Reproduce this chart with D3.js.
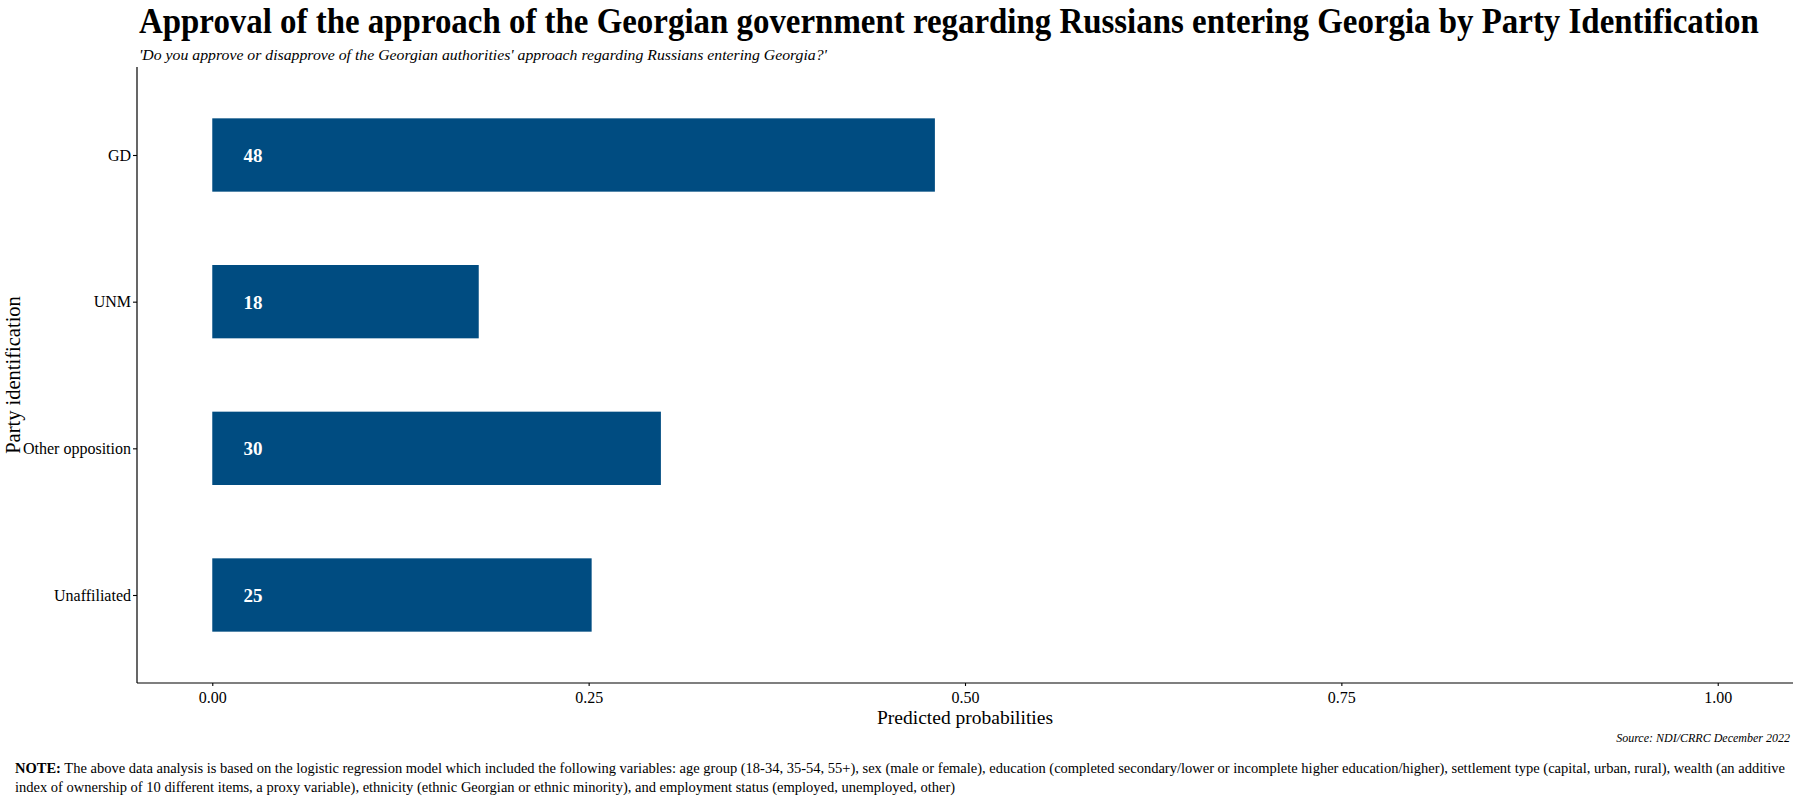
<!DOCTYPE html>
<html>
<head>
<meta charset="utf-8">
<script src="https://cdn.jsdelivr.net/npm/d3@7"></script>
<style>
  body { margin: 0; background: #fff; }
  svg text { font-family: "Liberation Serif", "Times New Roman", serif; fill: #000; }
</style>
</head>
<body>
<svg class="chart"></svg>
<script>
// chart data
var categories = ["GD", "UNM", "Other opposition", "Unaffiliated"];
var probabilities = [0.48, 0.177, 0.298, 0.252];
var barLabels = ["48", "18", "30", "25"];
var xTicks = [0, 0.25, 0.5, 0.75, 1];

var title = "Approval of the approach of the Georgian government regarding Russians entering Georgia by Party Identification";
var subtitle = "'Do you approve or disapprove of the Georgian authorities' approach regarding Russians entering Georgia?'";
var source = "Source: NDI/CRRC December 2022";
var noteLines = [
  "The above data analysis is based on the logistic regression model which included the following variables: age group (18-34, 35-54, 55+), sex (male or female), education (completed secondary/lower or incomplete higher education/higher), settlement type (capital, urban, rural), wealth (an additive",
  "index of ownership of 10 different items, a proxy variable), ethnicity (ethnic Georgian or ethnic minority), and employment status (employed, unemployed, other)"
];

var width = 1817;
var height = 809;

// panel area
var panel = { left: 137, right: 1793, top: 67, bottom: 683 };

var svg = d3.select(".chart")
    .attr("width", width)
    .attr("height", height);

var x = d3.scaleLinear()
    .domain([-0.05, 1.05])
    .range([panel.left, panel.right]);

// discrete scale with ggplot style 0.6 unit expansion
var y = d3.scalePoint()
    .domain(categories)
    .range([panel.top, panel.bottom])
    .padding(0.6);

var barHeight = y.step() * 0.5;

// bars
svg.append("g")
  .selectAll("rect")
  .data(categories)
  .enter().append("rect")
    .attr("x", x(0))
    .attr("y", function(d) { return y(d) - barHeight / 2; })
    .attr("width", function(d, i) { return x(probabilities[i]) - x(0); })
    .attr("height", barHeight)
    .attr("fill", "#004c81");

// value labels inside bars
svg.append("g")
  .selectAll("text")
  .data(categories)
  .enter().append("text")
    .attr("x", x(0.027))
    .attr("y", function(d) { return y(d); })
    .attr("dy", "0.36em")
    .attr("text-anchor", "middle")
    .attr("style", "fill: #fff; font-weight: bold; font-size: 19px;")
    .text(function(d, i) { return barLabels[i]; });

// y axis
var yAxis = svg.append("g")
    .attr("transform", "translate(" + panel.left + ",0)")
    .call(d3.axisLeft(y).tickSize(4).tickPadding(2));
yAxis.select(".domain").attr("d", "M0," + panel.top + "V" + panel.bottom).attr("stroke-width", 1.2);
yAxis.selectAll(".tick line").attr("stroke-width", 1.1);
yAxis.selectAll(".tick text").attr("style", "font-size: 16px;");

// x axis
var xAxis = svg.append("g")
    .attr("transform", "translate(0," + panel.bottom + ")")
    .call(d3.axisBottom(x).tickValues(xTicks).tickFormat(d3.format(".2f")).tickSize(3).tickPadding(6));
xAxis.select(".domain").attr("d", "M" + panel.left + ",0H" + panel.right).attr("stroke-width", 1.2);
xAxis.selectAll(".tick line").attr("stroke-width", 1.1);
xAxis.selectAll(".tick text").attr("style", "font-size: 16px;");

// axis titles
svg.append("text")
    .attr("x", (panel.left + panel.right) / 2)
    .attr("y", 724)
    .attr("text-anchor", "middle")
    .attr("style", "font-size: 19.5px;")
    .text("Predicted probabilities");

svg.append("text")
    .attr("transform", "translate(20," + (panel.top + panel.bottom) / 2 + ") rotate(-90)")
    .attr("text-anchor", "middle")
    .attr("style", "font-size: 20.5px;")
    .text("Party identification");

// title: the reference type is condensed, so squeeze it horizontally to its width
var titleG = svg.append("g");
var titleText = titleG.append("text")
    .attr("x", 0)
    .attr("y", 0)
    .attr("style", "font-size: 36px; font-weight: bold;")
    .text(title);
var titleScale = 1620 / titleText.node().getComputedTextLength();
titleG.attr("transform", "translate(139,33) scale(" + titleScale + ",1)");

svg.append("text")
    .attr("x", 139)
    .attr("y", 60)
    .attr("textLength", 688)
    .attr("lengthAdjust", "spacingAndGlyphs")
    .attr("style", "font-size: 15.5px; font-style: italic;")
    .text(subtitle);

// source and note
svg.append("text")
    .attr("x", panel.right - 3)
    .attr("y", 742)
    .attr("text-anchor", "end")
    .attr("style", "font-size: 12px; font-style: italic;")
    .text(source);

var note = svg.append("g").attr("style", "font-size: 14.5px;");
noteLines.forEach(function(line, i) {
  var t = note.append("text")
      .attr("x", 15)
      .attr("y", 773 + i * 19);
  if (i === 0) {
    t.append("tspan").attr("font-weight", "bold").text("NOTE:");
    t.append("tspan").text(" " + line);
  } else {
    t.text(line);
  }
});
</script>
</body>
</html>
